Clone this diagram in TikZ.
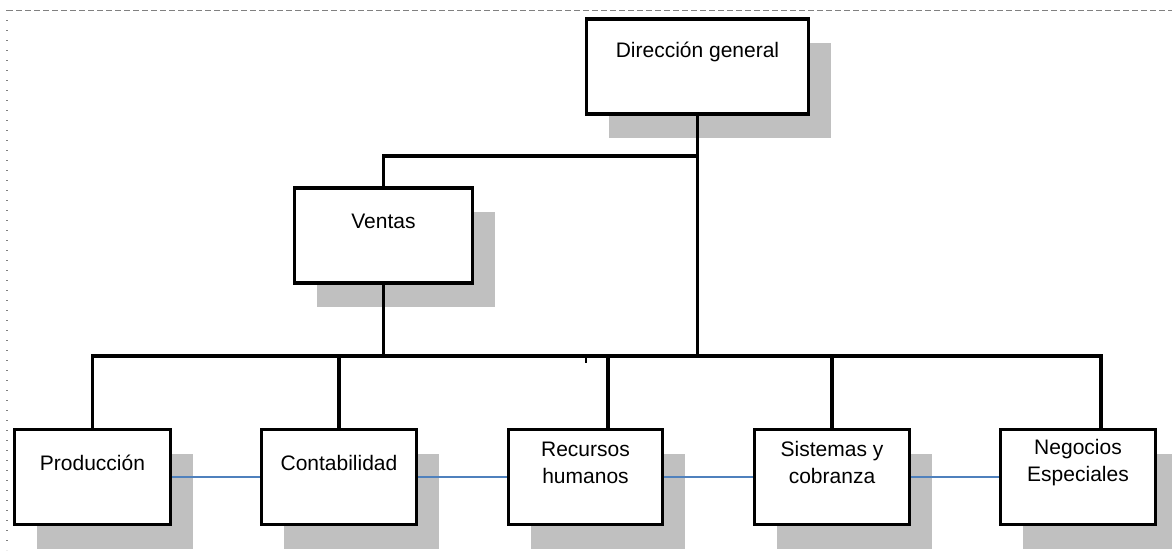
\documentclass[tikz,border=0pt]{standalone}
\usepackage{fontspec}
\setmainfont{Liberation Sans}
\usetikzlibrary{shadows}
\definecolor{sombra}{RGB}{192,192,192}
\definecolor{azul}{RGB}{79,129,189}
\begin{document}
\begin{tikzpicture}[x=1pt,y=-1pt,
  caja/.style={draw, line width=3.2pt, fill=white, minimum height=95pt,
    drop shadow={shadow xshift=22pt, shadow yshift=-24pt, fill=sombra, opacity=1},
    label={[anchor=center, yshift=-35pt, align=center, font=\fontsize{21}{27}\selectfont]north:#1}},
  enlace/.style={azul, line width=1.6pt},
  rama/.style={line width=3.2pt}]
\useasboundingbox (0,0) rectangle (1172,550);
\draw [gray, dash pattern=on 6pt off 3pt] (7,10) -- (1172,10);
\draw [gray, line width=1.3pt, dash pattern=on 1.3pt off 8.7pt] (7,10) -- (7,550);
\node [caja={Dirección general}, minimum width=222pt] (dir) at (697.5,66.5) {};
\node [caja={Ventas}, minimum width=178pt] (ven) at (383.5,235.5) {};
\node [caja={Producción}, minimum width=156pt] (pro) at (92.5,477) {};
\node [caja={Contabilidad}, minimum width=155pt] (con) at (339,477) {};
\node [caja={Recursos\\humanos}, minimum width=154pt] (rec) at (585.5,477) {};
\node [caja={Sistemas y\\cobranza}, minimum width=155pt] (sis) at (832,477) {};
\node [caja={Negocios\\Especiales}, minimum width=155pt] (neg) at (1078,477) {};
\coordinate (nudo) at (697.5,156);
\coordinate (busR) at (1101,356);
\coordinate (bajaRec) at (608,356);
\draw [rama] (dir.south) -- (dir.south |- busR);
\draw [rama] (ven.north) |- (nudo);
\draw [rama] (ven.south) -- (ven.south |- busR);
\draw [rama, line join=miter] (pro.north) |- (busR) -- (busR |- neg.north);
\draw [rama] (con.north) -- (con.north |- busR);
\draw [rama] (bajaRec) -- (bajaRec |- rec.north);
\draw [rama] (sis.north) -- (sis.north |- busR);
\draw [line width=2pt] (rec.north |- busR) -- ++(0,7);
\foreach \a/\b in {pro/con,con/rec,rec/sis,sis/neg}
  \draw [enlace] (\a) -- (\b);
\end{tikzpicture}
\end{document}
